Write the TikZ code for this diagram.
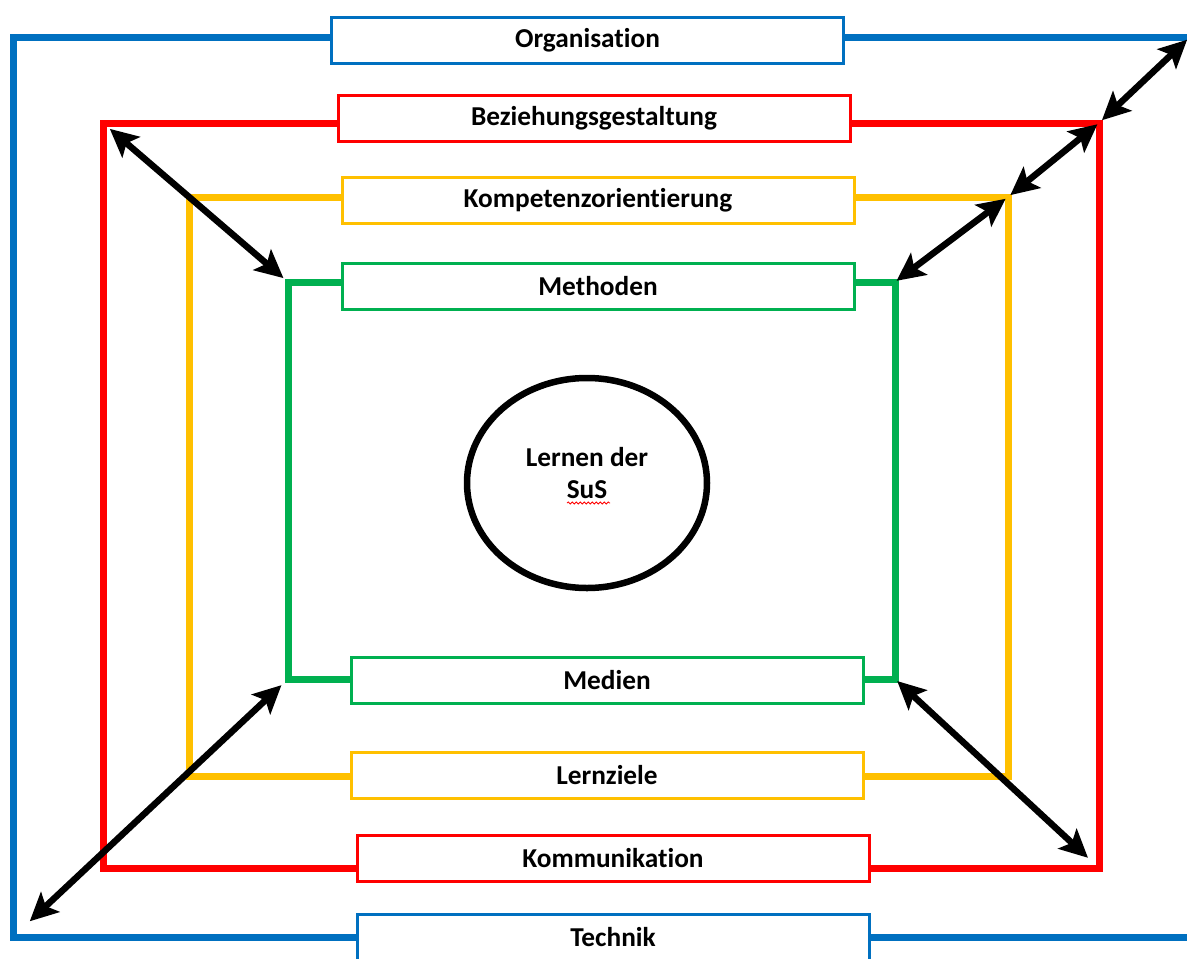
\documentclass[tikz,border=0pt]{standalone}
\usepackage{fontspec}
\setmainfont{Carlito}[Ligatures=NoCommon]
\usetikzlibrary{arrows.meta,shapes.geometric,decorations.pathmorphing}
\definecolor{orgblue}{HTML}{0070C0}
\definecolor{bezred}{HTML}{FF0000}
\definecolor{kompyellow}{HTML}{FFC000}
\definecolor{methgreen}{HTML}{00B050}
\tikzset{
  lbl/.style={draw=#1, line width=3pt, fill=white, minimum width=512pt, minimum height=46pt, inner sep=0pt, font=\fontsize{27.3}{32}\selectfont\bfseries},
  shell/.style={draw=#1, line width=7pt},
  dbl/.style={line width=6.5pt, {Stealth[length=28pt,width=27pt,inset=6pt]}-{Stealth[length=28pt,width=27pt,inset=6pt]}},
  ring/.style={ellipse, draw, line width=6.5pt, minimum width=240pt, minimum height=210pt}
}

\begin{document}
\begin{tikzpicture}[x=1pt, y=-1pt]
\useasboundingbox (0,0) rectangle (1187,959);

\coordinate (bTL) at (13,37);
\coordinate (bTR) at (1190,37);
\coordinate (bBL) at (13,937);
\coordinate (bBR) at (1190,937);
\coordinate (rTL) at (103,123);
\coordinate (rTR) at (1099,123);
\coordinate (rBL) at (103,868);
\coordinate (rBR) at (1099,868);
\coordinate (yTL) at (189,197);
\coordinate (yTR) at (1008,197);
\coordinate (yBL) at (189,776);
\coordinate (yBR) at (1008,776);
\coordinate (gTL) at (288,282);
\coordinate (gTR) at (895,282);
\coordinate (gBL) at (288,679);
\coordinate (gBR) at (895,679);

\node[lbl=orgblue] (org) at (587.5,40.5) {Organisation};
\node[lbl=bezred] (bez) at (594,118.5) {Beziehungsgestaltung};
\node[lbl=kompyellow] (komp) at (598,200.5) {Kompetenzorientierung};
\node[lbl=methgreen] (meth) at (598,286) {Methoden};
\node[lbl=methgreen] (med) at (607,680) {Medien};
\node[lbl=kompyellow] (lern) at (607,775.5) {Lernziele};
\node[lbl=bezred] (komm) at (613,858) {Kommunikation};
\node[lbl=orgblue] (tech) at (613,937.5) {Technik};

\draw[shell=orgblue] (org.west |- bTL) -- (bTL) -- (bBL) -- (tech.west |- bBL);
\draw[shell=orgblue] (org.east |- bTR) -- (bTR) -- (bBR) -- (tech.east |- bBR);
\draw[shell=bezred] (bez.west |- rTL) -- (rTL) -- (rBL) -- (komm.west |- rBL);
\draw[shell=bezred] (bez.east |- rTR) -- (rTR) -- (rBR) -- (komm.east |- rBR);
\draw[shell=kompyellow] (komp.west |- yTL) -- (yTL) -- (yBL) -- (lern.west |- yBL);
\draw[shell=kompyellow] (komp.east |- yTR) -- (yTR) -- (yBR) -- (lern.east |- yBR);
\draw[shell=methgreen] (meth.west |- gTL) -- (gTL) -- (gBL) -- (med.west |- gBL);
\draw[shell=methgreen] (meth.east |- gTR) -- (gTR) -- (gBR) -- (med.east |- gBR);

\node[ring] (sus) at (587,483) {};
\node[align=center, font=\fontsize{27.3}{32}\selectfont\bfseries] (susText) at (587,473) {Lernen der\\SuS};
\draw[bezred, line width=0.8pt, decorate, decoration={snake, amplitude=1pt, segment length=4pt}] (567,503) -- (610,503);

\draw[dbl, shorten <=9pt, shorten >=6pt] (rTL) -- (gTL);
\draw[dbl, shorten <=2pt, shorten >=3pt] (gTR) -- (yTR);
\draw[dbl, shorten <=3pt, shorten >=2pt] (yTR) -- (rTR);
\draw[dbl, shorten <=4pt, shorten >=4pt] (rTR) -- (bTR);
\draw[dbl, shorten <=3pt, shorten >=15pt] (gBR) -- (rBR);
\draw[dbl, shorten <=9pt, shorten >=23pt] (gBL) -- (bBL);
\end{tikzpicture}
\end{document}
